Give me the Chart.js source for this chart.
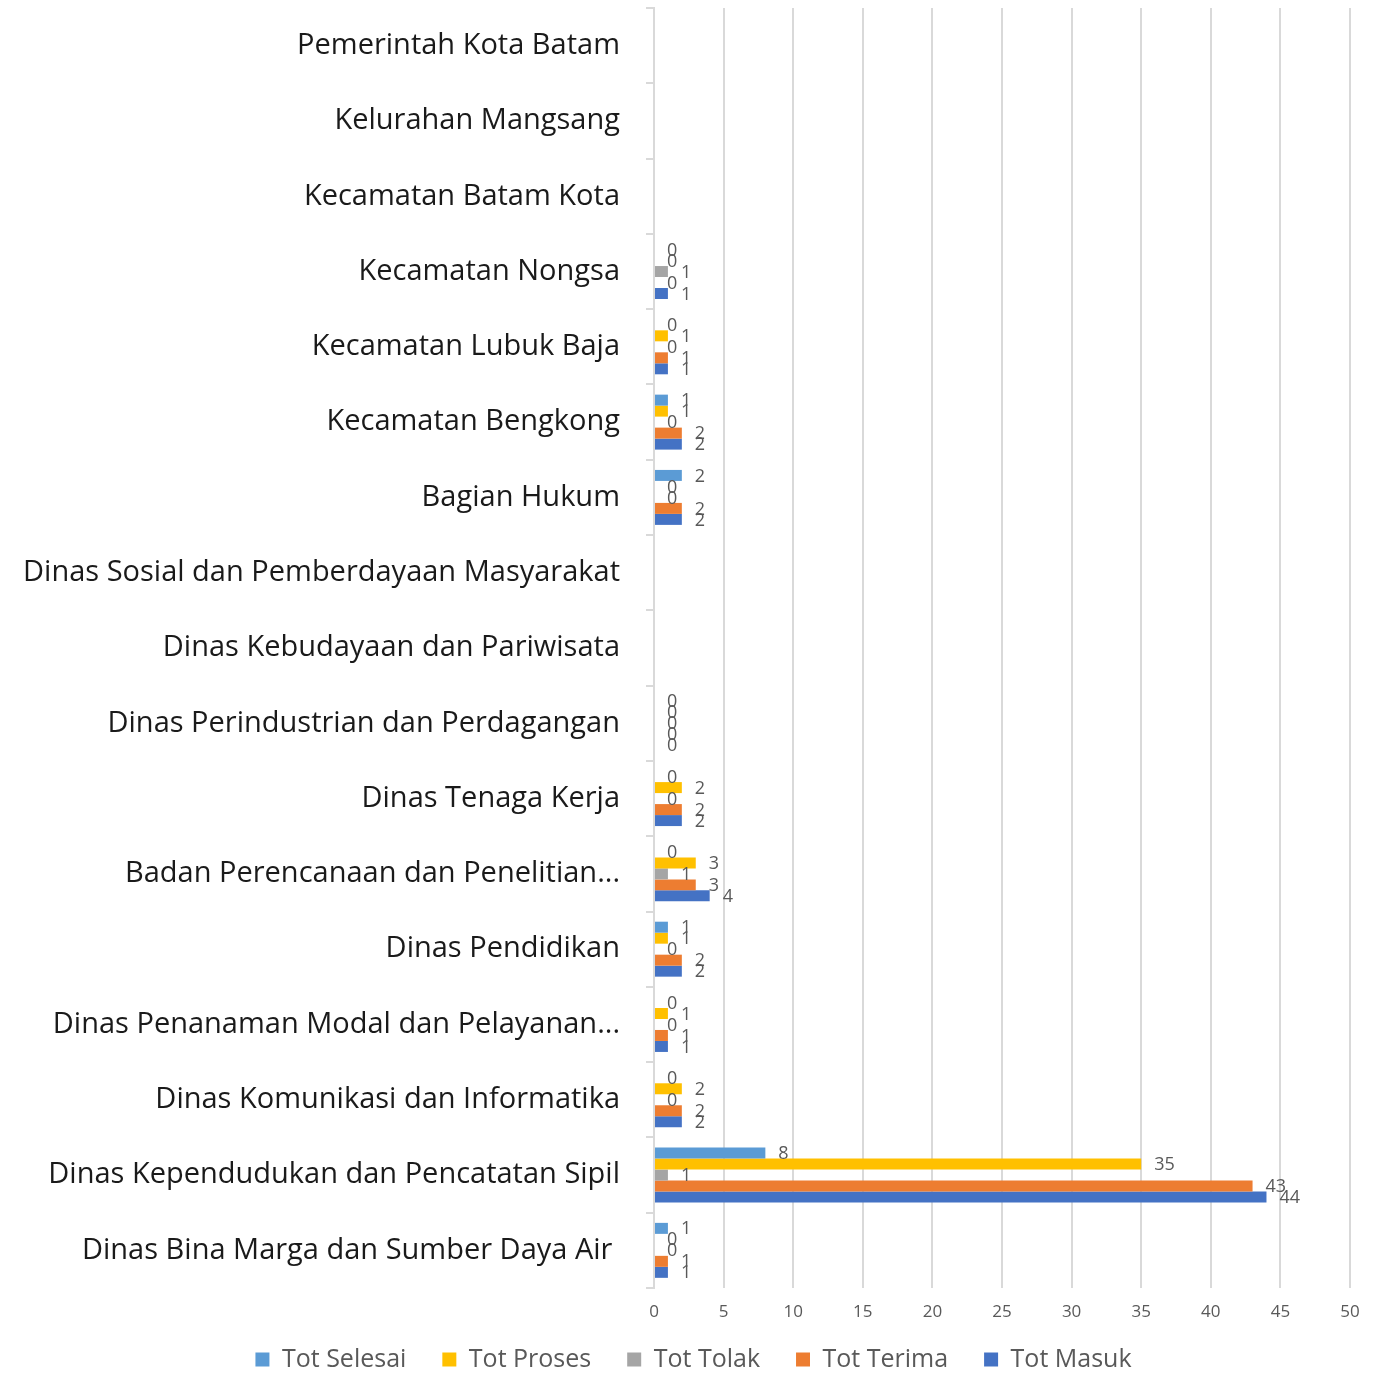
<!DOCTYPE html>
<html lang="id">
<head>
    <meta charset="UTF-8">
    <title>Rekap Permohonan per Instansi</title>
    <script src="https://cdn.jsdelivr.net/npm/chart.js"></script>
    <style>
        html, body { margin: 0; padding: 0; background: #fff; }
        #wrap { position: relative; width: 1387px; height: 1375px; }
    </style>
</head>
<body>
    <div id="wrap">
        <canvas id="rekapChart"></canvas>
    </div>

    <script>
        // data (top to bottom as in the picture)
        const instansi = [
            'Pemerintah Kota Batam',
            'Kelurahan Mangsang',
            'Kecamatan Batam Kota',
            'Kecamatan Nongsa',
            'Kecamatan Lubuk Baja',
            'Kecamatan Bengkong',
            'Bagian Hukum',
            'Dinas Sosial dan Pemberdayaan Masyarakat',
            'Dinas Kebudayaan dan Pariwisata',
            'Dinas Perindustrian dan Perdagangan',
            'Dinas Tenaga Kerja',
            'Badan Perencanaan dan Penelitian...',
            'Dinas Pendidikan',
            'Dinas Penanaman Modal dan Pelayanan...',
            'Dinas Komunikasi dan Informatika',
            'Dinas Kependudukan dan Pencatatan Sipil',
            'Dinas Bina Marga dan Sumber Daya Air '
        ];
        const totSelesai = [null, null, null, 0, 0, 1, 2, null, null, 0, 0, 0, 1, 0, 0, 8, 1];
        const totProses  = [null, null, null, 0, 1, 1, 0, null, null, 0, 2, 3, 1, 1, 2, 35, 0];
        const totTolak   = [null, null, null, 1, 0, 0, 0, null, null, 0, 0, 1, 0, 0, 0, 1, 0];
        const totTerima  = [null, null, null, 0, 1, 2, 2, null, null, 0, 2, 3, 2, 1, 2, 43, 1];
        const totMasuk   = [null, null, null, 1, 1, 2, 2, null, null, 0, 2, 4, 2, 1, 2, 44, 1];
        const xTicks = [0, 5, 10, 15, 20, 25, 30, 35, 40, 45, 50];

        const FONT = "'Open Sans', 'Noto Sans', sans-serif";

        // simple value labels at the end of each bar
        const barLabels = {
            id: 'barLabels',
            afterDatasetsDraw(chart) {
                const ctx = chart.ctx;
                ctx.save();
                ctx.font = '18px ' + FONT;
                ctx.fillStyle = '#595959';
                ctx.textAlign = 'left';
                ctx.textBaseline = 'middle';
                chart.data.datasets.forEach((ds, i) => {
                    const meta = chart.getDatasetMeta(i);
                    meta.data.forEach((bar, j) => {
                        const v = ds.data[j];
                        if (v === null || v === undefined) return;
                        ctx.fillText(String(v), bar.x + 13, bar.y + 1);
                    });
                });
                ctx.restore();
            }
        };

        const ctx = document.getElementById('rekapChart').getContext('2d');
        const rekapChart = new Chart(ctx, {
            type: 'bar',
            data: {
                labels: instansi,
                datasets: [
                    { label: 'Tot Selesai', data: totSelesai, backgroundColor: '#5B9BD5' },
                    { label: 'Tot Proses', data: totProses, backgroundColor: '#FFC000' },
                    { label: 'Tot Tolak', data: totTolak, backgroundColor: '#A5A5A5' },
                    { label: 'Tot Terima', data: totTerima, backgroundColor: '#ED7D31' },
                    { label: 'Tot Masuk', data: totMasuk, backgroundColor: '#4472C4' }
                ]
            },
            options: {
                indexAxis: 'y',
                responsive: true,
                maintainAspectRatio: false,
                animation: false,
                categoryPercentage: 0.73,
                barPercentage: 1,
                layout: { padding: { top: 8, right: 0, left: 0, bottom: 2 } },
                scales: {
                    x: {
                        min: 0,
                        max: 50,
                        afterBuildTicks(scale) {
                            scale.ticks = xTicks.map(v => ({ value: v }));
                        },
                        afterFit(scale) {
                            scale.height = 49;
                            scale.paddingRight = 37;
                        },
                        grid: { color: '#d9d9d9', lineWidth: 2, drawTicks: false },
                        border: { display: false },
                        ticks: {
                            color: '#595959',
                            padding: 14,
                            font: { family: FONT, size: 17 }
                        }
                    },
                    y: {
                        afterFit(scale) {
                            scale.width = 654;
                            scale.paddingTop = 0;
                            scale.paddingBottom = 0;
                        },
                        grid: {
                            drawOnChartArea: false,
                            color: '#d9d9d9',
                            lineWidth: 2,
                            tickLength: 8
                        },
                        border: { color: '#d9d9d9', width: 2 },
                        ticks: {
                            color: '#1a1a1a',
                            padding: 26,
                            autoSkip: false,
                            font: { family: FONT, size: 29 }
                        }
                    }
                },
                plugins: {
                    legend: {
                        position: 'bottom',
                        maxHeight: 36,
                        labels: {
                            boxWidth: 14,
                            boxHeight: 14,
                            padding: 10,
                            color: '#595959',
                            font: { family: FONT, size: 25 },
                            // wider gap between legend entries
                            generateLabels(chart) {
                                const items = Chart.defaults.plugins.legend.labels.generateLabels(chart);
                                items.forEach((it, i) => {
                                    if (i < items.length - 1) it.text = it.text + '    ';
                                });
                                return items;
                            }
                        }
                    },
                    tooltip: { enabled: false }
                }
            },
            plugins: [barLabels]
        });
    </script>
</body>
</html>
